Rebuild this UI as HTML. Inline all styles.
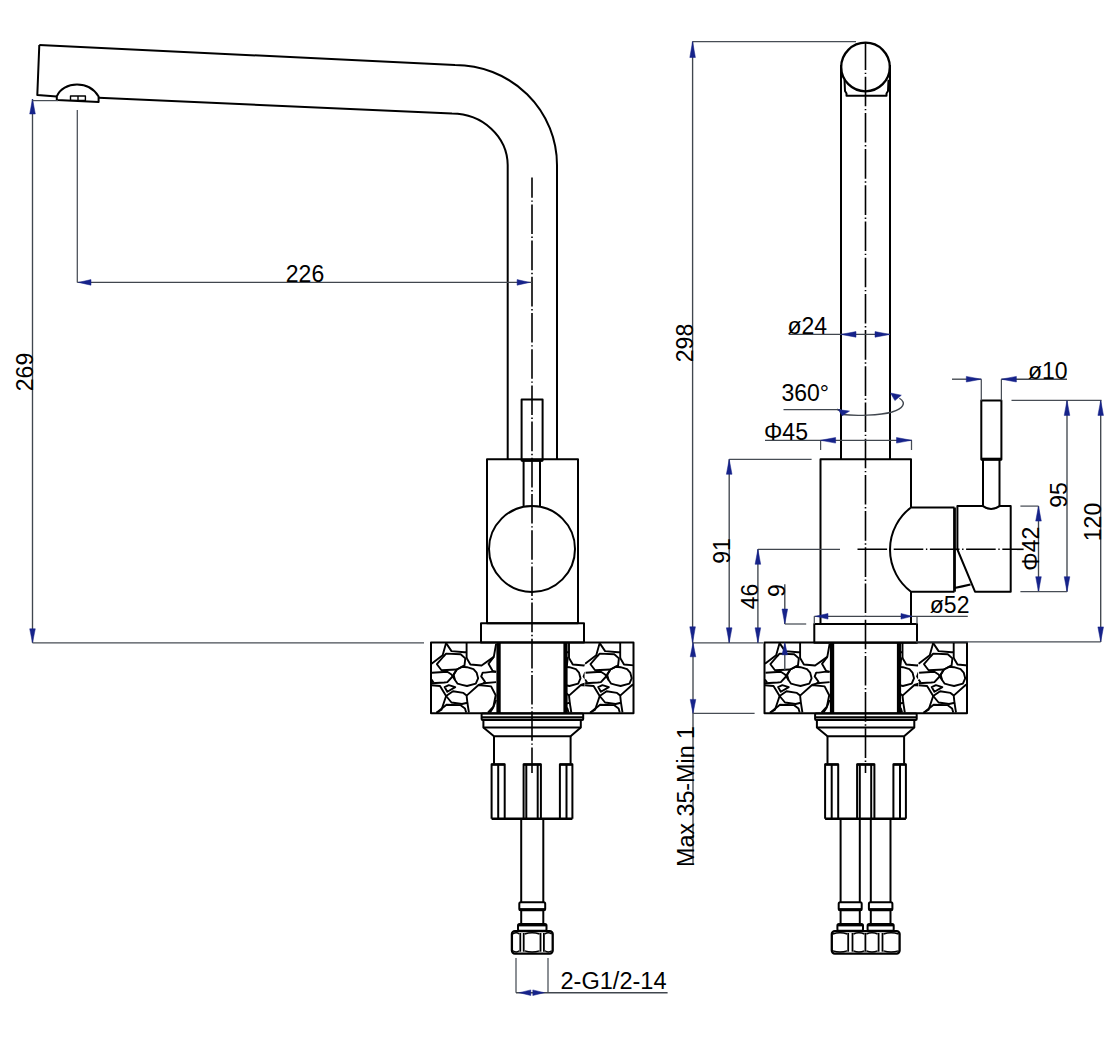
<!DOCTYPE html>
<html><head><meta charset="utf-8"><style>html,body{margin:0;padding:0;background:#fff;}
svg{display:block}
.k{fill:none;stroke:#000;stroke-width:2;stroke-linejoin:round}
.st{fill:none;stroke:#000;stroke-width:1.9;stroke-linejoin:round}
.fk{fill:#000;stroke:none}
.cl{fill:none;stroke:#000;stroke-width:1.6;stroke-dasharray:29.6 2.6 1.4 2.6}
.dm{fill:none;stroke:#40464e;stroke-width:1.35}
.ex{fill:none;stroke:#474d55;stroke-width:1.25}
.ar{fill:#16238a;stroke:#16238a;stroke-width:0.5}
.t{font-family:"Liberation Sans",sans-serif;fill:#000}
</style></head>
<body><svg width="1120" height="1043" viewBox="0 0 1120 1043"><defs><clipPath id="cA"><rect x="431.5" y="642.6" width="65.5" height="70.6"/></clipPath><clipPath id="cB"><rect x="566" y="642.6" width="18.6" height="70.6"/></clipPath><clipPath id="cC"><rect x="584.6" y="642.6" width="49" height="70.6"/></clipPath></defs><path d="M39.3,45 L455,65 A102,100 0 0 1 557,165 L557,459.2" class="k"/><path d="M507.7,459.2 L507.7,165 A56,52 0 0 0 452,113.5 L98.6,97.8" class="k"/><path d="M56.8,96.4 L37.3,95 L39.3,45" class="k"/><path d="M56.8,100 L56.8,96.4 C60,89 68,84.6 77,84.6 C86,84.6 94,89 98.6,96.5 L98.6,102.1 Z" class="k"/><rect x="70.5" y="96" width="14.9" height="4.4" class="k" style="stroke-width:1.4"/><line x1="78" y1="96" x2="78" y2="100.4" class="k" style="stroke-width:1.4"/><rect x="521.6" y="399.5" width="21" height="61" class="k"/><line x1="521.6" y1="460.3" x2="542.6" y2="460.3" class="k" style="stroke-width:3"/><rect x="487" y="459.2" width="91" height="164" class="k"/><line x1="523.6" y1="460.5" x2="523.6" y2="506" class="k"/><line x1="540" y1="460.5" x2="540" y2="506" class="k"/><circle cx="532" cy="549" r="43" class="k"/><rect x="481" y="623.2" width="103" height="19.4" class="k"/><rect x="431" y="642.6" width="202.5" height="70.6" class="k"/><g clip-path="url(#cA)" transform="translate(0,0)"><polyline points="446.1,643.1 442.65,655.3 431.5,663.8" class="st"/><polyline points="446.1,643.1 451.5,651.1 464.5,652.3 466.6,652.3" class="st"/><polyline points="466.6,642.9 466.6,658" class="st"/><polygon points="446.1,653.6 460.7,654.2 465.3,658.4 464.5,665.3 456.8,669.5 441.5,670.3 436.9,664.2 443.5,656.5" class="st"/><polyline points="466.6,658 470.4,664.5 481.6,665.5 493.8,656.9 496.1,643.8" class="st"/><polyline points="493.8,656.9 488.5,663.8 492.7,671 496.1,671.8" class="st"/><polygon points="456.8,669.5 462,666.8 467,667.2 473.5,669.1 476.6,672.6 478.1,678.3 475.8,683.7 467,686 462,684.8 457.6,683.7 455,680 453.5,674.5" class="st"/><polyline points="432,672.8 447.3,671.8 451.5,674.5 455,680" class="st"/><polyline points="456.8,669.5 453,676 447.3,682.1 444.2,682.5 431.5,683.3" class="st"/><polyline points="431.5,679.5 433.5,682.5" class="st"/><polygon points="444.6,687.1 448.8,685.2 455.3,687.1 447.3,691.7" class="st"/><polyline points="431.5,685.2 440,686 446.1,696 441.5,709.7 436.5,712.8" class="st"/><polygon points="446.1,696 453,691.3 463.4,692.9 466.6,695.6 467.4,702.8 462,704 451.5,702.5" class="st"/><polyline points="467.4,702.8 468.9,712.5" class="st"/><polyline points="436.5,712.8 446.5,704.8 460.3,705.1 465,708.6 466.2,712.5" class="st"/><polyline points="466.6,695.6 478.5,685 491.1,686.4 495.7,695.2 493.4,706.7 488.1,712.5" class="st"/><polyline points="478.5,685 483.5,683.3 496.1,682.1" class="st"/><polyline points="496.1,671.8 492.7,671.6 485,672.6 482.7,672.6 481.2,676.4 485,681.8 483.5,683.3" class="st"/><polyline points="496.1,700 493,708 490,712.5" class="st"/></g><g clip-path="url(#cB)" transform="translate(0,0)"><polyline points="548.5,643.1 545.05,655.3 533.9,663.8" class="st"/><polyline points="548.5,643.1 553.9,651.1 566.9,652.3 569,652.3" class="st"/><polyline points="569,642.9 569,658" class="st"/><polygon points="548.5,653.6 563.1,654.2 567.7,658.4 566.9,665.3 559.2,669.5 543.9,670.3 539.3,664.2 545.9,656.5" class="st"/><polyline points="569,658 572.8,664.5 584,665.5 596.2,656.9 598.5,643.8" class="st"/><polyline points="596.2,656.9 590.9,663.8 595.1,671 598.5,671.8" class="st"/><polygon points="559.2,669.5 564.4,666.8 569.4,667.2 575.9,669.1 579,672.6 580.5,678.3 578.2,683.7 569.4,686 564.4,684.8 560,683.7 557.4,680 555.9,674.5" class="st"/><polyline points="534.4,672.8 549.7,671.8 553.9,674.5 557.4,680" class="st"/><polyline points="559.2,669.5 555.4,676 549.7,682.1 546.6,682.5 533.9,683.3" class="st"/><polyline points="533.9,679.5 535.9,682.5" class="st"/><polygon points="547,687.1 551.2,685.2 557.7,687.1 549.7,691.7" class="st"/><polyline points="533.9,685.2 542.4,686 548.5,696 543.9,709.7 538.9,712.8" class="st"/><polygon points="548.5,696 555.4,691.3 565.8,692.9 569,695.6 569.8,702.8 564.4,704 553.9,702.5" class="st"/><polyline points="569.8,702.8 571.3,712.5" class="st"/><polyline points="538.9,712.8 548.9,704.8 562.7,705.1 567.4,708.6 568.6,712.5" class="st"/><polyline points="569,695.6 580.9,685 593.5,686.4 598.1,695.2 595.8,706.7 590.5,712.5" class="st"/><polyline points="580.9,685 585.9,683.3 598.5,682.1" class="st"/><polyline points="598.5,671.8 595.1,671.6 587.4,672.6 585.1,672.6 583.6,676.4 587.4,681.8 585.9,683.3" class="st"/><polyline points="598.5,700 595.4,708 592.4,712.5" class="st"/></g><g clip-path="url(#cC)" transform="translate(0,0)"><polyline points="599.7,643.1 596.25,655.3 585.1,663.8" class="st"/><polyline points="599.7,643.1 605.1,651.1 618.1,652.3 620.2,652.3" class="st"/><polyline points="620.2,642.9 620.2,658" class="st"/><polygon points="599.7,653.6 614.3,654.2 618.9,658.4 618.1,665.3 610.4,669.5 595.1,670.3 590.5,664.2 597.1,656.5" class="st"/><polyline points="620.2,658 624,664.5 635.2,665.5 647.4,656.9 649.7,643.8" class="st"/><polyline points="647.4,656.9 642.1,663.8 646.3,671 649.7,671.8" class="st"/><polygon points="610.4,669.5 615.6,666.8 620.6,667.2 627.1,669.1 630.2,672.6 631.7,678.3 629.4,683.7 620.6,686 615.6,684.8 611.2,683.7 608.6,680 607.1,674.5" class="st"/><polyline points="585.6,672.8 600.9,671.8 605.1,674.5 608.6,680" class="st"/><polyline points="610.4,669.5 606.6,676 600.9,682.1 597.8,682.5 585.1,683.3" class="st"/><polyline points="585.1,679.5 587.1,682.5" class="st"/><polygon points="598.2,687.1 602.4,685.2 608.9,687.1 600.9,691.7" class="st"/><polyline points="585.1,685.2 593.6,686 599.7,696 595.1,709.7 590.1,712.8" class="st"/><polygon points="599.7,696 606.6,691.3 617,692.9 620.2,695.6 621,702.8 615.6,704 605.1,702.5" class="st"/><polyline points="621,702.8 622.5,712.5" class="st"/><polyline points="590.1,712.8 600.1,704.8 613.9,705.1 618.6,708.6 619.8,712.5" class="st"/><polyline points="620.2,695.6 632.1,685 644.7,686.4 649.3,695.2 647,706.7 641.7,712.5" class="st"/><polyline points="632.1,685 637.1,683.3 649.7,682.1" class="st"/><polyline points="649.7,671.8 646.3,671.6 638.6,672.6 636.3,672.6 634.8,676.4 638.6,681.8 637.1,683.3" class="st"/><polyline points="649.7,700 646.6,708 643.6,712.5" class="st"/></g><rect x="496.4" y="643" width="4.3" height="70" class="fk"/><rect x="563.4" y="643" width="4.2" height="70" class="fk"/><rect x="481.6" y="713.5" width="101.6" height="6.5" rx="1" class="k"/><line x1="481.6" y1="717.4" x2="583.2" y2="717.4" class="k" style="stroke-width:2.2"/><path d="M483.4,720 L483.4,727.5 L494,736.2 L570.6,736.2 L580.8,727.5 L580.8,720" class="k"/><line x1="483.4" y1="727.5" x2="580.8" y2="727.5" class="k"/><line x1="494" y1="736.2" x2="494" y2="763.7" class="k"/><line x1="570.6" y1="736.2" x2="570.6" y2="763.7" class="k"/><line x1="491.6" y1="818.8" x2="572.4" y2="818.8" class="k" style="stroke-width:2.4"/><path d="M491.6,818.8 L491.6,764.2 L504.7,764.2 L504.7,818.8" class="k"/><line x1="491.6" y1="764.6" x2="504.7" y2="764.6" class="k" style="stroke-width:2.4"/><path d="M523.6,818.8 L523.6,764.2 L540.9,764.2 L540.9,818.8" class="k"/><line x1="523.6" y1="764.6" x2="540.9" y2="764.6" class="k" style="stroke-width:2.4"/><path d="M559.9,818.8 L559.9,764.2 L572.4,764.2 L572.4,818.8" class="k"/><line x1="559.9" y1="764.6" x2="572.4" y2="764.6" class="k" style="stroke-width:2.4"/><line x1="498.2" y1="764.2" x2="498.2" y2="818.8" class="k"/><line x1="526.3" y1="764.2" x2="526.3" y2="818.8" class="k"/><line x1="537.7" y1="764.2" x2="537.7" y2="818.8" class="k"/><line x1="566.5" y1="764.2" x2="566.5" y2="818.8" class="k"/><line x1="521.2" y1="818.8" x2="521.2" y2="902.3" class="k"/><line x1="543.3" y1="818.8" x2="543.3" y2="902.3" class="k"/><rect x="519.3" y="902.3" width="25.9" height="7.9" rx="1.5" class="k"/><line x1="519.3" y1="909.3" x2="545.2" y2="909.3" class="k" style="stroke-width:2.4"/><line x1="521.2" y1="910.2" x2="521.2" y2="924" class="k"/><line x1="543.3" y1="910.2" x2="543.3" y2="924" class="k"/><rect x="518" y="924" width="28.5" height="6.8" rx="1.5" class="k"/><line x1="518" y1="925.2" x2="546.5" y2="925.2" class="k" style="stroke-width:2.4"/><rect x="511.9" y="931.1" width="40.8" height="22.5" rx="3" class="k" style="stroke-width:2.3"/><line x1="520.3" y1="933" x2="520.3" y2="951.7" class="k" style="stroke-width:1.8"/><line x1="523.7" y1="933" x2="523.7" y2="951.7" class="k" style="stroke-width:1.8"/><line x1="540.5" y1="933" x2="540.5" y2="951.7" class="k" style="stroke-width:1.8"/><line x1="543.9" y1="933" x2="543.9" y2="951.7" class="k" style="stroke-width:1.8"/><path d="M512.9,934 Q516.1,931.6 519.3,934 M512.9,950.8 Q516.1,953.2 519.3,950.8" class="k" style="stroke-width:1.4"/><path d="M524.7,934 Q532.1,931.6 539.5,934 M524.7,950.8 Q532.1,953.2 539.5,950.8" class="k" style="stroke-width:1.4"/><path d="M544.9,934 Q548.3,931.6 551.7,934 M544.9,950.8 Q548.3,953.2 551.7,950.8" class="k" style="stroke-width:1.4"/><line x1="532" y1="177.5" x2="532" y2="773" class="cl" style="stroke-dashoffset:9.3"/><line x1="77.3" y1="110" x2="77.3" y2="282.4" class="ex"/><line x1="77.3" y1="282.4" x2="532" y2="282.4" class="dm"/><polygon points="78.5,282.4 91,279.6 91,285.2" class="ar"/><polygon points="529.6,282.4 517.1,285.2 517.1,279.6" class="ar"/><text x="305" y="282" text-anchor="middle" class="t" style="font-size:23px">226</text><line x1="32.5" y1="99" x2="32.5" y2="642.8" class="dm"/><polygon points="32.5,99 35.3,114 29.7,114" class="ar"/><polygon points="32.5,642.8 29.7,628.8 35.3,628.8" class="ar"/><line x1="32.5" y1="100.6" x2="58" y2="100.6" class="ex"/><line x1="32.5" y1="642.8" x2="424" y2="642.8" class="ex"/><text transform="translate(32.5,372) rotate(-90)" text-anchor="middle" class="t" style="font-size:23px">269</text><line x1="516" y1="958" x2="516" y2="992.7" class="ex"/><line x1="548" y1="958" x2="548" y2="992.7" class="ex"/><line x1="516" y1="992.7" x2="667.6" y2="992.7" class="dm"/><polygon points="519.3,992.7 530.8,989.9 530.8,995.5" class="ar"/><polygon points="544.3,992.7 532.8,995.5 532.8,989.9" class="ar"/><text x="560.5" y="989" text-anchor="start" class="t" style="font-size:23px" textLength="106" lengthAdjust="spacingAndGlyphs">2-G1/2-14</text><circle cx="865.5" cy="67" r="24.3" class="k" style="stroke-width:2.3"/><line x1="841" y1="65" x2="841" y2="459.3" class="k"/><line x1="890" y1="65" x2="890" y2="459.3" class="k"/><path d="M844.5,79.8 L845,91 L846.5,93.5 L846.5,95.7 L886.5,95.7 L886.5,93.5 L888,91 L888.5,79.8" class="k"/><path d="M911,507.5 L911,459.3 L820.5,459.3 L820.5,624 L911,624 L911,591.7" class="k"/><path d="M911,507.5 L954.5,507.5 M911,591.7 L954.5,591.7 M911,507.5 A52.7,52.7 0 0 0 911,591.7" class="k"/><line x1="954.5" y1="507.5" x2="954.5" y2="591.7" class="k" style="stroke-width:2.8"/><path d="M957.4,506.1 L983,506.1 Q991,512 999.5,506.1 L1010.7,506.1 L1010.7,591.7 L975,591.7 L957.4,549.5 Z" class="k"/><path d="M954.5,588 Q962,586.5 970.5,584.5" class="k"/><line x1="983" y1="459.4" x2="983" y2="506.5" class="k"/><line x1="999.5" y1="459.4" x2="999.5" y2="506.5" class="k"/><rect x="981.3" y="400.4" width="20.1" height="59" class="k"/><line x1="981.3" y1="459.2" x2="1001.4" y2="459.2" class="k" style="stroke-width:3"/><rect x="814.3" y="624" width="102.7" height="18.8" class="k"/><rect x="764.5" y="642.6" width="202.5" height="70.6" class="k"/><g clip-path="url(#cA)" transform="translate(333.5,0)"><polyline points="446.1,643.1 442.65,655.3 431.5,663.8" class="st"/><polyline points="446.1,643.1 451.5,651.1 464.5,652.3 466.6,652.3" class="st"/><polyline points="466.6,642.9 466.6,658" class="st"/><polygon points="446.1,653.6 460.7,654.2 465.3,658.4 464.5,665.3 456.8,669.5 441.5,670.3 436.9,664.2 443.5,656.5" class="st"/><polyline points="466.6,658 470.4,664.5 481.6,665.5 493.8,656.9 496.1,643.8" class="st"/><polyline points="493.8,656.9 488.5,663.8 492.7,671 496.1,671.8" class="st"/><polygon points="456.8,669.5 462,666.8 467,667.2 473.5,669.1 476.6,672.6 478.1,678.3 475.8,683.7 467,686 462,684.8 457.6,683.7 455,680 453.5,674.5" class="st"/><polyline points="432,672.8 447.3,671.8 451.5,674.5 455,680" class="st"/><polyline points="456.8,669.5 453,676 447.3,682.1 444.2,682.5 431.5,683.3" class="st"/><polyline points="431.5,679.5 433.5,682.5" class="st"/><polygon points="444.6,687.1 448.8,685.2 455.3,687.1 447.3,691.7" class="st"/><polyline points="431.5,685.2 440,686 446.1,696 441.5,709.7 436.5,712.8" class="st"/><polygon points="446.1,696 453,691.3 463.4,692.9 466.6,695.6 467.4,702.8 462,704 451.5,702.5" class="st"/><polyline points="467.4,702.8 468.9,712.5" class="st"/><polyline points="436.5,712.8 446.5,704.8 460.3,705.1 465,708.6 466.2,712.5" class="st"/><polyline points="466.6,695.6 478.5,685 491.1,686.4 495.7,695.2 493.4,706.7 488.1,712.5" class="st"/><polyline points="478.5,685 483.5,683.3 496.1,682.1" class="st"/><polyline points="496.1,671.8 492.7,671.6 485,672.6 482.7,672.6 481.2,676.4 485,681.8 483.5,683.3" class="st"/><polyline points="496.1,700 493,708 490,712.5" class="st"/></g><g clip-path="url(#cB)" transform="translate(333.5,0)"><polyline points="548.5,643.1 545.05,655.3 533.9,663.8" class="st"/><polyline points="548.5,643.1 553.9,651.1 566.9,652.3 569,652.3" class="st"/><polyline points="569,642.9 569,658" class="st"/><polygon points="548.5,653.6 563.1,654.2 567.7,658.4 566.9,665.3 559.2,669.5 543.9,670.3 539.3,664.2 545.9,656.5" class="st"/><polyline points="569,658 572.8,664.5 584,665.5 596.2,656.9 598.5,643.8" class="st"/><polyline points="596.2,656.9 590.9,663.8 595.1,671 598.5,671.8" class="st"/><polygon points="559.2,669.5 564.4,666.8 569.4,667.2 575.9,669.1 579,672.6 580.5,678.3 578.2,683.7 569.4,686 564.4,684.8 560,683.7 557.4,680 555.9,674.5" class="st"/><polyline points="534.4,672.8 549.7,671.8 553.9,674.5 557.4,680" class="st"/><polyline points="559.2,669.5 555.4,676 549.7,682.1 546.6,682.5 533.9,683.3" class="st"/><polyline points="533.9,679.5 535.9,682.5" class="st"/><polygon points="547,687.1 551.2,685.2 557.7,687.1 549.7,691.7" class="st"/><polyline points="533.9,685.2 542.4,686 548.5,696 543.9,709.7 538.9,712.8" class="st"/><polygon points="548.5,696 555.4,691.3 565.8,692.9 569,695.6 569.8,702.8 564.4,704 553.9,702.5" class="st"/><polyline points="569.8,702.8 571.3,712.5" class="st"/><polyline points="538.9,712.8 548.9,704.8 562.7,705.1 567.4,708.6 568.6,712.5" class="st"/><polyline points="569,695.6 580.9,685 593.5,686.4 598.1,695.2 595.8,706.7 590.5,712.5" class="st"/><polyline points="580.9,685 585.9,683.3 598.5,682.1" class="st"/><polyline points="598.5,671.8 595.1,671.6 587.4,672.6 585.1,672.6 583.6,676.4 587.4,681.8 585.9,683.3" class="st"/><polyline points="598.5,700 595.4,708 592.4,712.5" class="st"/></g><g clip-path="url(#cC)" transform="translate(333.5,0)"><polyline points="599.7,643.1 596.25,655.3 585.1,663.8" class="st"/><polyline points="599.7,643.1 605.1,651.1 618.1,652.3 620.2,652.3" class="st"/><polyline points="620.2,642.9 620.2,658" class="st"/><polygon points="599.7,653.6 614.3,654.2 618.9,658.4 618.1,665.3 610.4,669.5 595.1,670.3 590.5,664.2 597.1,656.5" class="st"/><polyline points="620.2,658 624,664.5 635.2,665.5 647.4,656.9 649.7,643.8" class="st"/><polyline points="647.4,656.9 642.1,663.8 646.3,671 649.7,671.8" class="st"/><polygon points="610.4,669.5 615.6,666.8 620.6,667.2 627.1,669.1 630.2,672.6 631.7,678.3 629.4,683.7 620.6,686 615.6,684.8 611.2,683.7 608.6,680 607.1,674.5" class="st"/><polyline points="585.6,672.8 600.9,671.8 605.1,674.5 608.6,680" class="st"/><polyline points="610.4,669.5 606.6,676 600.9,682.1 597.8,682.5 585.1,683.3" class="st"/><polyline points="585.1,679.5 587.1,682.5" class="st"/><polygon points="598.2,687.1 602.4,685.2 608.9,687.1 600.9,691.7" class="st"/><polyline points="585.1,685.2 593.6,686 599.7,696 595.1,709.7 590.1,712.8" class="st"/><polygon points="599.7,696 606.6,691.3 617,692.9 620.2,695.6 621,702.8 615.6,704 605.1,702.5" class="st"/><polyline points="621,702.8 622.5,712.5" class="st"/><polyline points="590.1,712.8 600.1,704.8 613.9,705.1 618.6,708.6 619.8,712.5" class="st"/><polyline points="620.2,695.6 632.1,685 644.7,686.4 649.3,695.2 647,706.7 641.7,712.5" class="st"/><polyline points="632.1,685 637.1,683.3 649.7,682.1" class="st"/><polyline points="649.7,671.8 646.3,671.6 638.6,672.6 636.3,672.6 634.8,676.4 638.6,681.8 637.1,683.3" class="st"/><polyline points="649.7,700 646.6,708 643.6,712.5" class="st"/></g><rect x="829.9" y="643" width="4.3" height="70" class="fk"/><rect x="896.9" y="643" width="4.2" height="70" class="fk"/><rect x="815.1" y="713.5" width="101.6" height="6.5" rx="1" class="k"/><line x1="815.1" y1="717.4" x2="916.7" y2="717.4" class="k" style="stroke-width:2.2"/><path d="M816.9,720 L816.9,727.5 L827.5,736.2 L904.1,736.2 L914.3,727.5 L914.3,720" class="k"/><line x1="816.9" y1="727.5" x2="914.3" y2="727.5" class="k"/><line x1="827.5" y1="736.2" x2="827.5" y2="763.7" class="k"/><line x1="904.1" y1="736.2" x2="904.1" y2="763.7" class="k"/><line x1="825.1" y1="818.8" x2="905.9" y2="818.8" class="k" style="stroke-width:2.4"/><path d="M825.1,818.8 L825.1,764.2 L838.2,764.2 L838.2,818.8" class="k"/><line x1="825.1" y1="764.6" x2="838.2" y2="764.6" class="k" style="stroke-width:2.4"/><path d="M857.1,818.8 L857.1,764.2 L874.4,764.2 L874.4,818.8" class="k"/><line x1="857.1" y1="764.6" x2="874.4" y2="764.6" class="k" style="stroke-width:2.4"/><path d="M893.4,818.8 L893.4,764.2 L905.9,764.2 L905.9,818.8" class="k"/><line x1="893.4" y1="764.6" x2="905.9" y2="764.6" class="k" style="stroke-width:2.4"/><line x1="831.7" y1="764.2" x2="831.7" y2="818.8" class="k"/><line x1="859.8" y1="764.2" x2="859.8" y2="818.8" class="k"/><line x1="871.2" y1="764.2" x2="871.2" y2="818.8" class="k"/><line x1="900" y1="764.2" x2="900" y2="818.8" class="k"/><line x1="840.6" y1="818.8" x2="840.6" y2="902.3" class="k"/><line x1="859.8" y1="818.8" x2="859.8" y2="902.3" class="k"/><rect x="838.7" y="902.3" width="23" height="7.9" rx="1.5" class="k"/><line x1="838.7" y1="909.3" x2="861.7" y2="909.3" class="k" style="stroke-width:2.4"/><line x1="840.6" y1="910.2" x2="840.6" y2="924" class="k"/><line x1="859.8" y1="910.2" x2="859.8" y2="924" class="k"/><rect x="837.4" y="924" width="25.6" height="6.8" rx="1.5" class="k"/><line x1="837.4" y1="925.2" x2="863" y2="925.2" class="k" style="stroke-width:2.4"/><line x1="870.8" y1="818.8" x2="870.8" y2="902.3" class="k"/><line x1="890.5" y1="818.8" x2="890.5" y2="902.3" class="k"/><rect x="868.9" y="902.3" width="23.5" height="7.9" rx="1.5" class="k"/><line x1="868.9" y1="909.3" x2="892.4" y2="909.3" class="k" style="stroke-width:2.4"/><line x1="870.8" y1="910.2" x2="870.8" y2="924" class="k"/><line x1="890.5" y1="910.2" x2="890.5" y2="924" class="k"/><rect x="867.6" y="924" width="26.1" height="6.8" rx="1.5" class="k"/><line x1="867.6" y1="925.2" x2="893.7" y2="925.2" class="k" style="stroke-width:2.4"/><rect x="831.8" y="931.1" width="67.8" height="22.5" rx="3" class="k" style="stroke-width:2.3"/><line x1="848.2" y1="933" x2="848.2" y2="951.7" class="k" style="stroke-width:1.8"/><line x1="852.5" y1="933" x2="852.5" y2="951.7" class="k" style="stroke-width:1.8"/><line x1="865.4" y1="933" x2="865.4" y2="951.7" class="k" style="stroke-width:1.8"/><line x1="878.6" y1="933" x2="878.6" y2="951.7" class="k" style="stroke-width:1.8"/><line x1="882.5" y1="933" x2="882.5" y2="951.7" class="k" style="stroke-width:1.8"/><path d="M832.8,934 Q840,931.6 847.2,934 M832.8,950.8 Q840,953.2 847.2,950.8" class="k" style="stroke-width:1.4"/><path d="M853.5,934 Q858.95,931.6 864.4,934 M853.5,950.8 Q858.95,953.2 864.4,950.8" class="k" style="stroke-width:1.4"/><path d="M866.4,934 Q872,931.6 877.6,934 M866.4,950.8 Q872,953.2 877.6,950.8" class="k" style="stroke-width:1.4"/><path d="M883.5,934 Q891.05,931.6 898.6,934 M883.5,950.8 Q891.05,953.2 898.6,950.8" class="k" style="stroke-width:1.4"/><line x1="865.5" y1="43" x2="865.5" y2="773" class="cl" style="stroke-dashoffset:2.5"/><line x1="857.5" y1="549.3" x2="1023.6" y2="549.3" class="cl"/><line x1="757.9" y1="549.3" x2="840" y2="549.3" class="dm"/><line x1="692.6" y1="41.5" x2="692.6" y2="642.8" class="dm"/><line x1="692.6" y1="41.5" x2="856" y2="41.5" class="ex"/><polygon points="692.6,41.5 695.4,57.5 689.8,57.5" class="ar"/><polygon points="692.6,642.8 689.8,626.8 695.4,626.8" class="ar"/><text transform="translate(692.5,343) rotate(-90)" text-anchor="middle" class="t" style="font-size:23px">298</text><line x1="692.6" y1="642.8" x2="763" y2="642.8" class="ex"/><line x1="693" y1="642.8" x2="693" y2="864.7" class="dm"/><polygon points="693,642.8 695.8,656.8 690.2,656.8" class="ar"/><polygon points="693,713.4 690.2,699.4 695.8,699.4" class="ar"/><line x1="693" y1="713.4" x2="754.6" y2="713.4" class="ex"/><text transform="translate(693.5,867) rotate(-90)" text-anchor="start" class="t" style="font-size:23px" textLength="141" lengthAdjust="spacingAndGlyphs">Max 35-Min 1</text><line x1="729.2" y1="459.3" x2="729.2" y2="642.8" class="dm"/><line x1="729.2" y1="459.3" x2="811.6" y2="459.3" class="ex"/><polygon points="729.2,459.3 732,474.3 726.4,474.3" class="ar"/><polygon points="729.2,642.8 726.4,627.8 732,627.8" class="ar"/><text transform="translate(729.5,551) rotate(-90)" text-anchor="middle" class="t" style="font-size:23px">91</text><line x1="757.9" y1="549.3" x2="757.9" y2="642.8" class="dm"/><polygon points="757.9,549.3 760.7,564.3 755.1,564.3" class="ar"/><polygon points="757.9,642.8 755.1,627.8 760.7,627.8" class="ar"/><text transform="translate(758,596.5) rotate(-90)" text-anchor="middle" class="t" style="font-size:23px">46</text><line x1="784.8" y1="584.2" x2="784.8" y2="624" class="dm"/><polygon points="784.8,624 782,609 787.6,609" class="ar"/><line x1="784.8" y1="642.8" x2="784.8" y2="670" class="dm"/><polygon points="784.8,642.8 787.6,654.8 782,654.8" class="ar"/><line x1="784.8" y1="624" x2="806.2" y2="624" class="ex"/><text transform="translate(785,590.5) rotate(-90)" text-anchor="middle" class="t" style="font-size:23px">9</text><line x1="788.7" y1="334.4" x2="890" y2="334.4" class="dm"/><polygon points="841,334.4 856,331.6 856,337.2" class="ar"/><polygon points="890,334.4 875,337.2 875,331.6" class="ar"/><text x="787.5" y="334" text-anchor="start" class="t" style="font-size:23px">ø24</text><text x="781.5" y="400.6" text-anchor="start" class="t" style="font-size:23px">360°</text><line x1="783.5" y1="409.6" x2="841" y2="409.6" class="dm"/><path d="M836.8,409.2 L839,410.5 M842,414.5 C855,416 880,415.5 892,412 C903,408.5 907,403 899.4,398.2" class="dm"/><polygon points="838.3,409.6 849.5,411.1 842.1,415.8" class="ar"/><polygon points="890.5,393 901.3,395.2 894.9,400.6" class="ar"/><line x1="765" y1="440.3" x2="912" y2="440.3" class="dm"/><line x1="820.6" y1="440.3" x2="820.6" y2="450" class="ex"/><line x1="911.5" y1="440.3" x2="911.5" y2="450" class="ex"/><polygon points="820.6,440.3 835.6,437.5 835.6,443.1" class="ar"/><polygon points="911.5,440.3 896.5,443.1 896.5,437.5" class="ar"/><text x="764" y="440" text-anchor="start" class="t" style="font-size:23px">Φ45</text><line x1="952" y1="379.2" x2="981.3" y2="379.2" class="dm"/><polygon points="981.3,379.2 966.3,382 966.3,376.4" class="ar"/><line x1="1001.4" y1="379.2" x2="1067" y2="379.2" class="dm"/><polygon points="1001.4,379.2 1016.4,376.4 1016.4,382" class="ar"/><line x1="981.3" y1="379.2" x2="981.3" y2="400.4" class="ex"/><line x1="1001.4" y1="379.2" x2="1001.4" y2="400.4" class="ex"/><text x="1028" y="378.6" text-anchor="start" class="t" style="font-size:23px">ø10</text><line x1="1011.5" y1="400.4" x2="1101.5" y2="400.4" class="ex"/><line x1="1067" y1="400.4" x2="1067" y2="591.7" class="dm"/><polygon points="1067,400.4 1069.8,415.4 1064.2,415.4" class="ar"/><polygon points="1067,591.7 1064.2,576.7 1069.8,576.7" class="ar"/><text transform="translate(1067,495) rotate(-90)" text-anchor="middle" class="t" style="font-size:23px">95</text><line x1="1100.7" y1="400.4" x2="1100.7" y2="641.9" class="dm"/><polygon points="1100.7,400.4 1103.5,415.4 1097.9,415.4" class="ar"/><polygon points="1100.7,641.9 1097.9,626.9 1103.5,626.9" class="ar"/><line x1="916" y1="641.9" x2="1100.7" y2="641.9" class="ex"/><text transform="translate(1100.5,522) rotate(-90)" text-anchor="middle" class="t" style="font-size:23px">120</text><line x1="1038.5" y1="506.1" x2="1038.5" y2="591.7" class="dm"/><polygon points="1038.5,506.1 1041.3,521.1 1035.7,521.1" class="ar"/><polygon points="1038.5,591.7 1035.7,576.7 1041.3,576.7" class="ar"/><line x1="1020.4" y1="506.1" x2="1038.5" y2="506.1" class="ex"/><line x1="1020.4" y1="591.7" x2="1067" y2="591.7" class="ex"/><text transform="translate(1038.5,548.7) rotate(-90)" text-anchor="middle" class="t" style="font-size:23px">Φ42</text><line x1="814.3" y1="616.3" x2="967.8" y2="616.3" class="dm"/><line x1="814.3" y1="616.3" x2="814.3" y2="624" class="ex"/><line x1="917" y1="616.3" x2="917" y2="624" class="ex"/><polygon points="815.5,616.3 828,613.5 828,619.1" class="ar"/><polygon points="912,616.3 901,619.1 901,613.5" class="ar"/><text x="929.8" y="613.3" text-anchor="start" class="t" style="font-size:23px">ø52</text></svg></body></html>
